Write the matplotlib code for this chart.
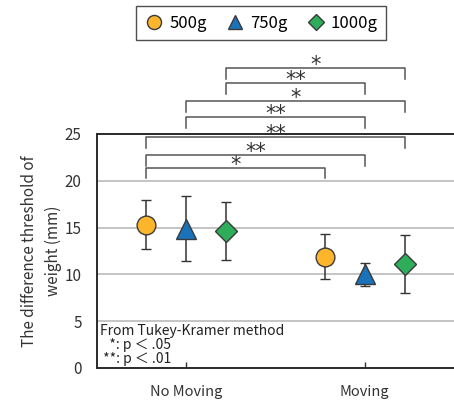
import matplotlib
matplotlib.use("Agg")
import matplotlib.pyplot as plt
from matplotlib.lines import Line2D
import numpy as np

plt.rcParams['font.family'] = ['Noto Sans CJK JP', 'DejaVu Sans']

# ---- data ----
conditions = ["No Moving", "Moving"]
weights = ["500g", "750g", "1000g"]
mean_500 = [15.3, 11.9]
err_500 = [2.6, 2.4]
mean_750 = [14.9, 10.0]
err_750 = [3.5, 1.2]
mean_1000 = [14.6, 11.1]
err_1000 = [3.1, 3.1]
y_ticks = [0, 5, 10, 15, 20, 25]

# comparisons: (condition, weight index) pairs and significance label
comp_from = [(0, 2), (0, 2), (0, 1), (0, 1), (0, 0), (0, 0), (0, 0)]
comp_to = [(1, 2), (1, 1), (1, 2), (1, 1), (1, 2), (1, 1), (1, 0)]
comp_label = ["*", "**", "*", "**", "**", "**", "*"]

# ---- layout / style ----
bracket_y = [32.05, 30.45, 28.5, 26.8, 24.7, 22.75, 21.4]
offsets = [-0.225, 0.0, 0.225]
colors = ["#FDB62C", "#1A72BB", "#2EAE5B"]
markers = ["o", "^", "D"]
msizes = [13.5, 14, 11]
edge = "#3a3a3a"

fig = plt.figure(figsize=(4.54, 4.03), dpi=100)
ax = fig.add_axes([97/454, 35/403, (454-97)/454, 234/403])

x = np.arange(len(conditions))
means = [mean_500, mean_750, mean_1000]
errs = [err_500, err_750, err_1000]
for i in range(3):
    ax.errorbar(x + offsets[i], means[i], yerr=errs[i], fmt=markers[i],
                color=colors[i], mfc=colors[i], mec=edge, mew=1.0,
                ms=msizes[i], ecolor="#333333", elinewidth=1.1,
                capsize=3.5, capthick=1.1, zorder=3)

ax.set_xlim(-0.5, 1.5)
ax.set_ylim(0, 25)
ax.set_yticks(y_ticks)
ax.set_xticks(x)
ax.set_xticklabels(conditions, fontsize=10.5, color="#333333")
ax.tick_params(axis='y', length=0, pad=11, labelsize=11, labelcolor="#333333")
ax.tick_params(axis='x', direction='in', length=4, width=1, color="#333333", pad=12)
ax.yaxis.grid(True, color="#BFBFBF", linewidth=1.3)
ax.set_axisbelow(True)
for s in ["left", "bottom", "top"]:
    ax.spines[s].set_color("#2a2a2a")
    ax.spines[s].set_linewidth(1.4)
ax.spines["right"].set_visible(False)

ax.set_ylabel("The difference threshold of\nweight (mm)", fontsize=11,
              color="#333333", labelpad=2, linespacing=1.5)

# significance brackets
leg_len = 1.15
for (c0, w0), (c1, w1), lab, yb in zip(comp_from, comp_to, comp_label, bracket_y):
    xa = c0 + offsets[w0]
    xb = c1 + offsets[w1]
    ax.plot([xa, xa, xb, xb], [yb - leg_len, yb, yb, yb - leg_len],
            color="#555555", lw=1.1, clip_on=False, zorder=4)
    ax.text((xa + xb) / 2, yb - 0.3, lab, ha='center', va='baseline',
            fontsize=15, family='DejaVu Sans', color="#333333", clip_on=False)

ax.text(0.008, 0.008, "From Tukey-Kramer method\n   *: p ＜ .05\n **: p ＜ .01",
        transform=ax.transAxes, ha='left', va='bottom', fontsize=10,
        color="#222222", linespacing=1.0)

handles = [Line2D([], [], linestyle='none', marker=markers[i], color=colors[i],
                  mec=edge, mew=1.0, ms=msizes[i] * 0.75) for i in range(3)]
leg = fig.legend(handles, weights, loc='center', bbox_to_anchor=(261/454, 1 - 23/403),
                 ncol=3, frameon=True, fancybox=False, fontsize=12,
                 handletextpad=0.3, columnspacing=1.1, borderpad=0.5,
                 handlelength=1.2)
leg.get_frame().set_edgecolor("#222222")
leg.get_frame().set_linewidth(1.0)

fig.savefig("out.png", dpi=100)
